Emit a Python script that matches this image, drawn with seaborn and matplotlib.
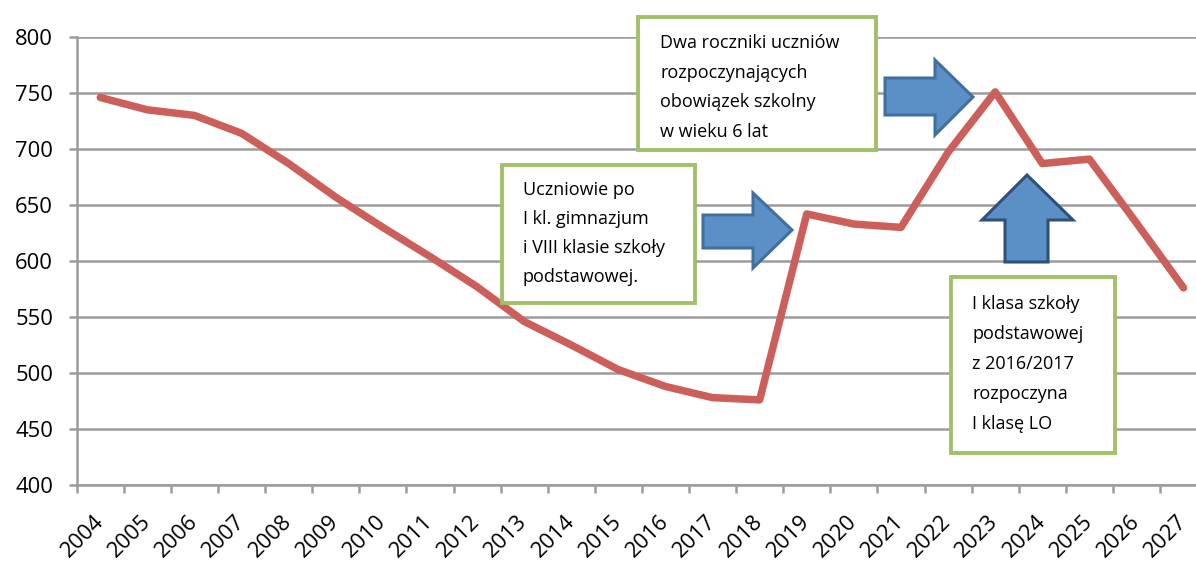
import matplotlib
matplotlib.use("Agg")
import matplotlib.pyplot as plt
import seaborn as sns
import pandas as pd
from matplotlib.patches import Rectangle, Polygon

# ---- data ----
years = [str(y) for y in range(2004, 2028)]
students = [746, 735, 730, 714, 687, 657, 630, 604, 577, 546, 525, 503,
            488, 478, 476, 642, 633, 630, 697, 751, 687, 691, 634, 576]

box1_lines = ["Uczniowie po", "I kl. gimnazjum", "i VIII klasie szkoły", "podstawowej."]
box2_lines = ["Dwa roczniki uczniów", "rozpoczynających", "obowiązek szkolny", "w wieku 6 lat"]
box3_lines = ["I klasa szkoły", "podstawowej", "z 2016/2017", "rozpoczyna", "I klasę LO"]

y_ticks = [400, 450, 500, 550, 600, 650, 700, 750, 800]

# ---- style ----
sns.set_theme(style="white")
plt.rcParams['font.family'] = ['Open Sans', 'DejaVu Sans']

W, H = 1196, 565
fig = plt.figure(figsize=(W / 100, H / 100), dpi=100)

ax_left, ax_right = 76.7, 76.7 + 24 * 47.1
ax_top, ax_bot = 37, 485
ax = fig.add_axes([ax_left / W, 1 - ax_bot / H, (ax_right - ax_left) / W, (ax_bot - ax_top) / H])

df = pd.DataFrame({"rok": years, "liczba": students})
grid_col = "#9C9C9C"
line_col = "#CD5F5A"

sns.lineplot(data=df, x="rok", y="liczba", ax=ax, color=line_col, linewidth=5.4,
             solid_capstyle="round", solid_joinstyle="round", zorder=3)

ax.set_xlim(-0.5, len(years) - 0.5)
ax.set_ylim(400, 800)
ax.set_yticks(y_ticks)
ax.set_yticklabels([str(v) for v in y_ticks])
ax.set_xticks(range(len(years)))
ax.set_xticklabels(years)
ax.set_xticks([i - 0.5 for i in range(len(years) + 1)], minor=True)
ax.set_xlabel("")
ax.set_ylabel("")

ax.yaxis.grid(True, color=grid_col, linewidth=1.8)
ax.xaxis.grid(False)
ax.set_axisbelow(True)
for s in ["top", "right"]:
    ax.spines[s].set_visible(False)
for s in ["left", "bottom"]:
    ax.spines[s].set_color(grid_col)
    ax.spines[s].set_linewidth(1.8)

ax.tick_params(axis="y", which="major", left=True, length=6, width=1.8, color=grid_col,
               pad=11, labelsize=15.8, labelcolor="black")
ax.tick_params(axis="x", which="major", bottom=True, length=0, pad=24,
               labelsize=15.8, labelcolor="black")
ax.tick_params(axis="x", which="minor", bottom=True, length=6, width=1.8, color=grid_col)
for lab in ax.get_xticklabels():
    lab.set_rotation(45)
    lab.set_ha("right")
    lab.set_va("center")
    lab.set_rotation_mode("anchor")


def fx(x):
    return x / W


def fy(y):
    return 1 - y / H


# ---- annotation boxes ----
green = "#A2C06A"


def draw_box(x0, y0, x1, y1, lines, tx, baselines):
    r = Rectangle((fx(x0), fy(y1)), fx(x1) - fx(x0), fy(y0) - fy(y1),
                  transform=fig.transFigure, facecolor="white", edgecolor=green,
                  linewidth=2.8, zorder=5)
    fig.patches.append(r)
    for ln, by in zip(lines, baselines):
        fig.text(fx(tx), fy(by), ln, fontsize=13, color="black", ha="left",
                 va="baseline", zorder=6)


draw_box(502, 165, 695, 303, box1_lines, 523, [195, 224, 253, 282])
draw_box(638, 17, 876, 150, box2_lines, 660, [48, 78, 107, 137])
draw_box(951, 277, 1115, 453, box3_lines, 972, [309, 339, 369, 399, 429])

# ---- block arrows ----
fill_blue = "#5B90C7"


def draw_arrow(pts, edge):
    p = Polygon([(fx(a), fy(b)) for a, b in pts], closed=True, transform=fig.transFigure,
                facecolor=fill_blue, edgecolor=edge, linewidth=2.2, joinstyle="miter", zorder=5)
    fig.patches.append(p)


draw_arrow([(703, 215), (753, 215), (753, 193), (792, 230), (753, 268), (753, 248), (703, 248)],
           "#41709F")
draw_arrow([(885, 78), (935, 78), (935, 60), (973, 97), (935, 135), (935, 115), (885, 115)],
           "#41709F")
draw_arrow([(1005, 262), (1005, 220), (982, 220), (1027, 175), (1073, 220), (1048, 220), (1048, 262)],
           "#2F5078")

fig.savefig("out.png", dpi=100, facecolor="white")
